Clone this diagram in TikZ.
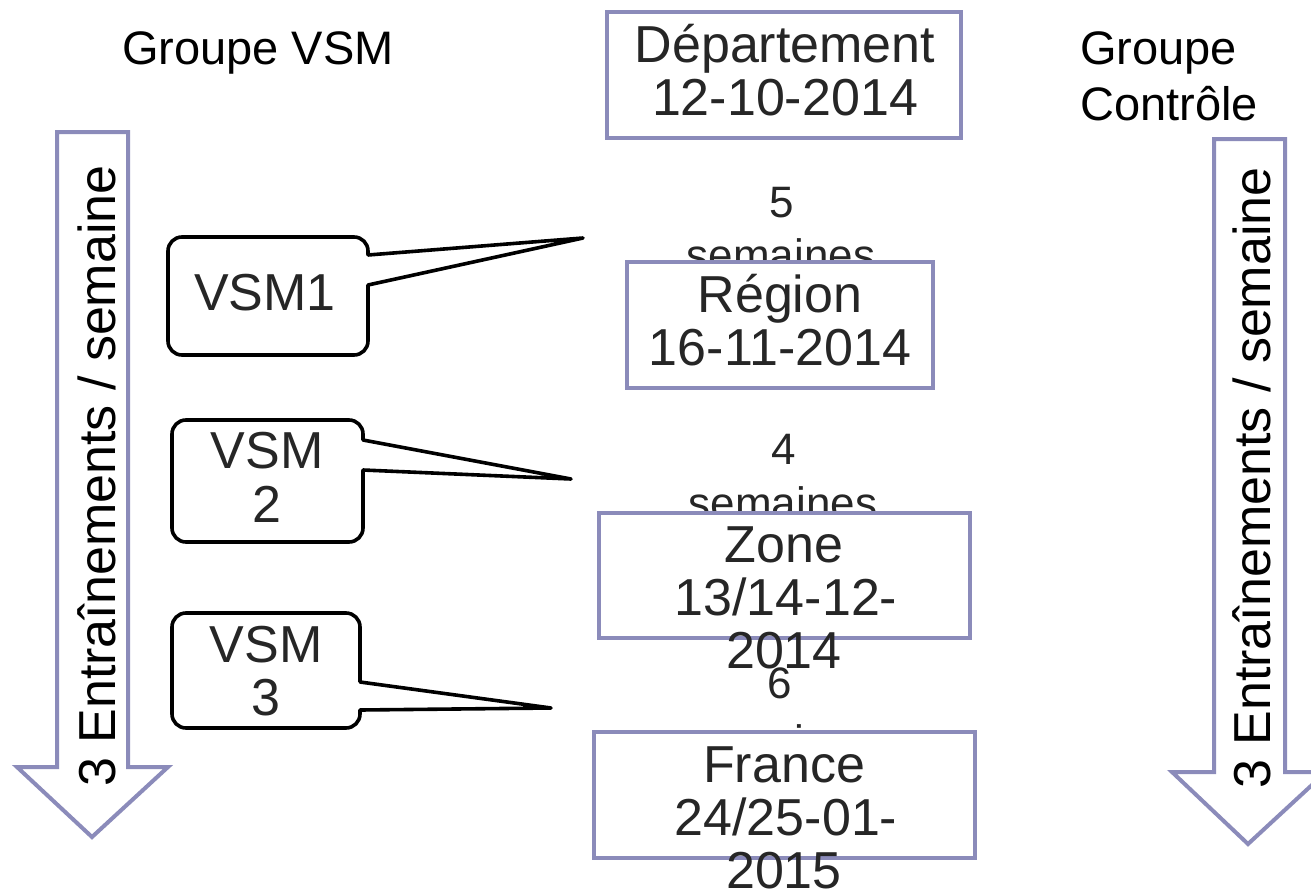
\documentclass[tikz,border=0pt]{standalone}
\usepackage{fontspec}
\setmainfont{Liberation Sans}
\definecolor{boxline}{RGB}{139,139,186}
\definecolor{ink}{RGB}{38,38,38}
\begin{document}
\begin{tikzpicture}[x=1pt,y=-1pt,
  blockarrow/.style={draw=boxline, line width=4pt, fill=white, line join=miter},
  framebox/.style={draw=boxline, line width=4pt, fill=white},
  bigtxt/.style={font=\fontsize{52}{52}\selectfont, text=ink, inner sep=0pt, anchor=base},
  weektxt/.style={font=\fontsize{44}{44}\selectfont, text=ink, inner sep=0pt, anchor=base},
  grptxt/.style={font=\fontsize{47}{47}\selectfont, text=black, inner sep=0pt},
  armtxt/.style={font=\fontsize{52}{52}\selectfont, text=black, inner sep=0pt, rotate=90, anchor=base west},
  callbox/.style={draw=black, line width=3.6pt, fill=white, rounded corners=14pt},
  wedge/.style={draw=black, line width=3.6pt, line join=round, line cap=round}]
\useasboundingbox (0,0) rectangle (1311,891);
\fill[white] (0,0) rectangle (1311,891);

% group titles
\node[grptxt, anchor=base] (gvsm) at (258,65) {Groupe VSM};
\node[grptxt, anchor=base west] (gc1) at (1080,65) {Groupe};
\node[grptxt, anchor=base west] (gc2) at (1080,120) {Contrôle};

% block arrows
\draw[blockarrow] (57,132) -- (128,132) -- (128,767) -- (168,767) -- (92,837) -- (17,767) -- (57,767) -- cycle;
\draw[blockarrow] (1214,139) -- (1285,139) -- (1285,772) -- (1326,772) -- (1248,844) -- (1172,772) -- (1214,772) -- cycle;
\node[armtxt] (arrL) at (115,787) {3 Entraînements / semaine};
\node[armtxt] (arrR) at (1270,789) {3 Entraînements / semaine};

% weeks labels (partly hidden behind boxes)
\node[weektxt] (w5a) at (782,217) {5};
\node[weektxt] (w5b) at (781,270) {semaines};
\node[weektxt] (w4a) at (784,464) {4};
\node[weektxt] (w4b) at (783,518) {semaines};
\node[weektxt] (w6a) at (780,698) {6};
\node[weektxt] (w6b) at (781,756) {semaines};

% stage boxes
\draw[framebox] (607,12) rectangle (961,138);
\node[bigtxt] (dep1) at (785,63) {Département};
\node[bigtxt] (dep2) at (785,115) {12-10-2014};

\draw[framebox] (627,262) rectangle (933,388);
\node[bigtxt] (reg1) at (780,312) {Région};
\node[bigtxt] (reg2) at (780,365) {16-11-2014};

\draw[framebox] (599,513) rectangle (970,638);
\node[bigtxt] (zon1) at (784,562) {Zone};
\node[bigtxt] (zon2) at (786,615) {13/14-12-};
\node[bigtxt] (zon3) at (784,668) {2014};

\draw[framebox] (594,732) rectangle (975,858);
\node[bigtxt] (fra1) at (784,782) {France};
\node[bigtxt] (fra2) at (786,835) {24/25-01-};
\node[bigtxt] (fra3) at (784,888) {2015};

% callouts
\coordinate (t1) at (583,238);
\coordinate (t2) at (571,479);
\coordinate (t3) at (551,708);

\draw[callbox] (168,237) rectangle (368,355);
\fill[white] (365,255) -- (t1) -- (365,285) -- cycle;
\draw[wedge] (368,255) -- (t1) -- (368,285);
\node[bigtxt] (vsm1) at (265,310) {VSM1};

\draw[callbox] (172,420) rectangle (363,542);
\fill[white] (360,440) -- (t2) -- (360,470) -- cycle;
\draw[wedge] (363,440) -- (t2) -- (363,470);
\node[bigtxt] (vsm2a) at (267,468) {VSM};
\node[bigtxt] (vsm2b) at (267,522) {2};

\draw[callbox] (172,613) rectangle (360,728);
\fill[white] (357,682) -- (t3) -- (357,710) -- cycle;
\draw[wedge] (360,682) -- (t3) -- (360,710);
\node[bigtxt] (vsm3a) at (266,662) {VSM};
\node[bigtxt] (vsm3b) at (266,715) {3};
\end{tikzpicture}
\end{document}
